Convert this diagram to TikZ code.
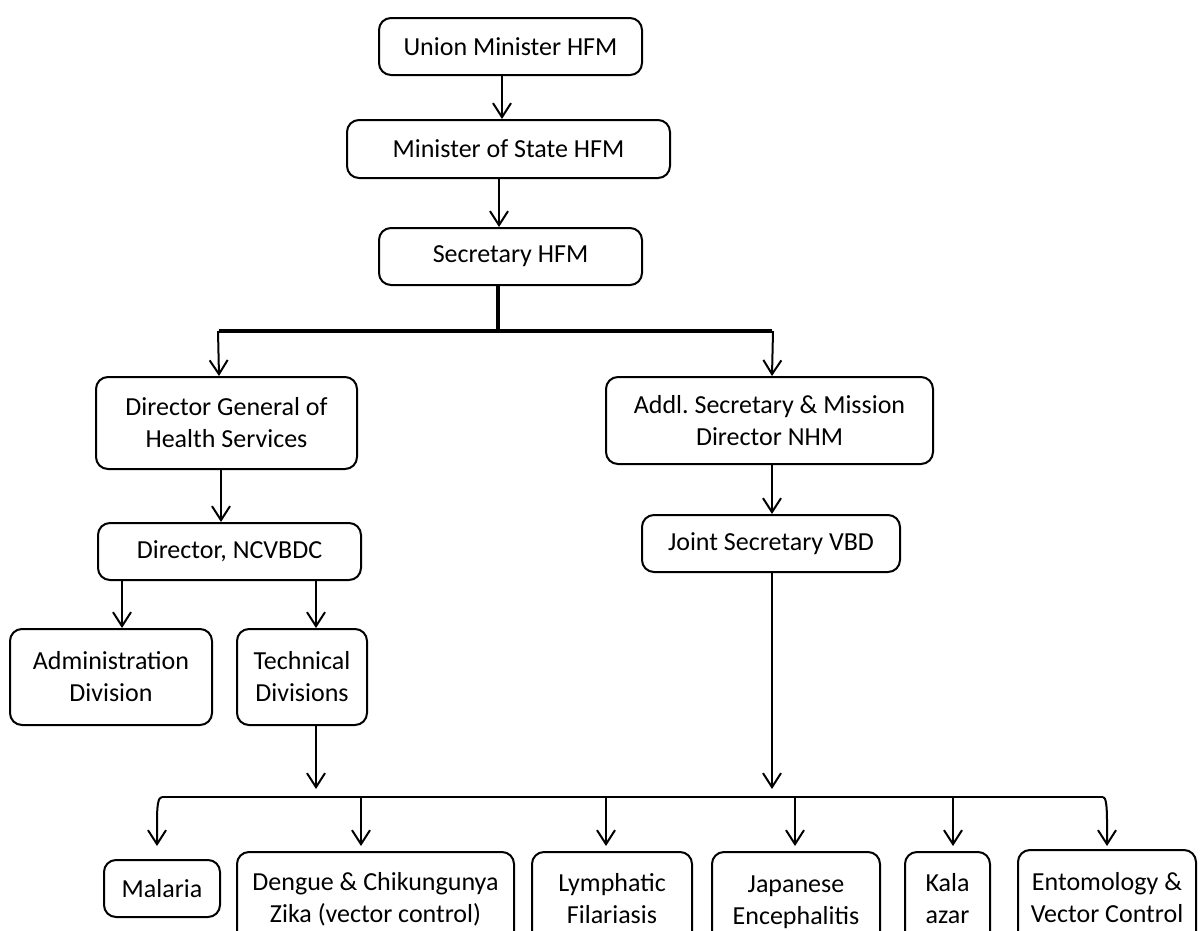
\documentclass[tikz,border=0pt]{standalone}
\usepackage{fontspec}
\setmainfont{Carlito}
\frenchspacing
\usetikzlibrary{arrows.meta}
\begin{document}
\begin{tikzpicture}[x=1pt,y=-1pt,
  box/.style={draw, line width=2pt, rounded corners=12pt, align=center, inner sep=0pt,
    font=\fontsize{26pt}{32pt}\selectfont},
  conn/.style={line width=2pt, -{Straight Barb[length=14pt,width=18pt]}},
  plain/.style={line width=2pt},
  heavy/.style={line width=4.5pt}]
\path[use as bounding box, clip] (0,0) rectangle (1200,930);

% top chain
\node[box, minimum width=263pt, minimum height=57pt] (union) at (510.5,46.5) {Union Minister HFM};
\node[box, minimum width=323pt, minimum height=58pt] (minister) at (508.5,149) {Minister of State HFM};
\node[box, minimum width=263pt, minimum height=57pt] (secretary) at (510.5,256.5) {Secretary HFM};

\coordinate (a1) at (502,0);
\coordinate (a2) at (499,0);
\draw[conn] (union.south -| a1) -- (minister.north -| a1);
\draw[conn] (minister.south -| a2) -- (secretary.north -| a2);

% split
\coordinate (jn) at (498,331);
\coordinate (jl) at (219,331);
\coordinate (jr) at (772,331);
\draw[heavy] (secretary.south -| jn) -- (jn);
\draw[heavy] (jl) -- (jr);

% second level
\node[box, minimum width=261pt, minimum height=92pt] (dg) at (226.5,423) {Director General of\\Health Services};
\node[box, minimum width=327pt, minimum height=87pt] (addl) at (769.5,420.5) {Addl. Secretary \& Mission\\Director NHM};
\draw[conn] ([xshift=-1pt]jl) -- (jl |- dg.north);
\draw[conn] ([xshift=1pt]jr) -- (jr |- addl.north);

\node[box, minimum width=263pt, minimum height=57pt] (director) at (229.5,551.5) {Director, NCVBDC};
\node[box, minimum width=258pt, minimum height=57pt] (joint) at (771,543.5) {Joint Secretary VBD};
\coordinate (a3) at (221,0);
\draw[conn] (dg.south -| a3) -- (director.north -| a3);
\draw[conn] (addl.south -| jr) -- (joint.north -| jr);

\node[box, minimum width=202pt, minimum height=96pt] (admin) at (111,677) {Administration\\Division};
\node[box, minimum width=130pt, minimum height=96pt] (tech) at (302,677) {Technical\\Divisions};
\coordinate (a4) at (122,0);
\coordinate (a5) at (316,0);
\draw[conn] (director.south -| a4) -- (admin.north -| a4);
\draw[conn] (director.south -| a5) -- (tech.north -| a5);

% bracket
\coordinate (bl) at (162,797);
\coordinate (br) at (1103,797);
\coordinate (tT) at (316,789);
\coordinate (tJ) at (772,789);
\draw[conn] (tech.south -| tT) -- (tT);
\draw[conn] (joint.south -| tJ) -- (tJ);
\draw[plain] (bl) -- (br);

% bottom row
\node[box, minimum width=116pt, minimum height=57pt] (malaria) at (162,888.5) {Malaria};
\node[box, minimum width=277pt, minimum height=94pt] (dengue) at (375.5,899) {Dengue \& Chikungunya\\Zika (vector control)};
\node[box, minimum width=160pt, minimum height=94pt] (lymph) at (612,899) {Lymphatic\\Filariasis};
\node[box, minimum width=168pt, minimum height=94pt] (japan) at (796,899) {\strut Japanese\\Encephalitis};
\node[box, minimum width=85pt, minimum height=94pt] (kala) at (947.5,899) {Kala\\azar};
\node[box, minimum width=178pt, minimum height=96pt] (ento) at (1107,898) {Entomology \&\\Vector Control};

\coordinate (m1) at (157,822);
\coordinate (m6) at (1107,822);
\draw[conn, shorten >=13pt] (bl) .. controls (158,797) and (157,806) .. (m1) -- (m1 |- malaria.north);
\draw[conn, shorten >=3pt] (br) .. controls (1106,797) and (1107,806) .. (m6) -- (m6 |- ento.north);

\coordinate (b2) at (361,797);
\coordinate (b3) at (606,797);
\coordinate (b4) at (795,797);
\coordinate (b5) at (953,797);
\draw[conn, shorten >=5pt] (b2) -- (b2 |- dengue.north);
\draw[conn, shorten >=5pt] (b3) -- (b3 |- lymph.north);
\draw[conn, shorten >=5pt] (b4) -- (b4 |- japan.north);
\draw[conn, shorten >=5pt] (b5) -- (b5 |- kala.north);
\end{tikzpicture}
\end{document}
